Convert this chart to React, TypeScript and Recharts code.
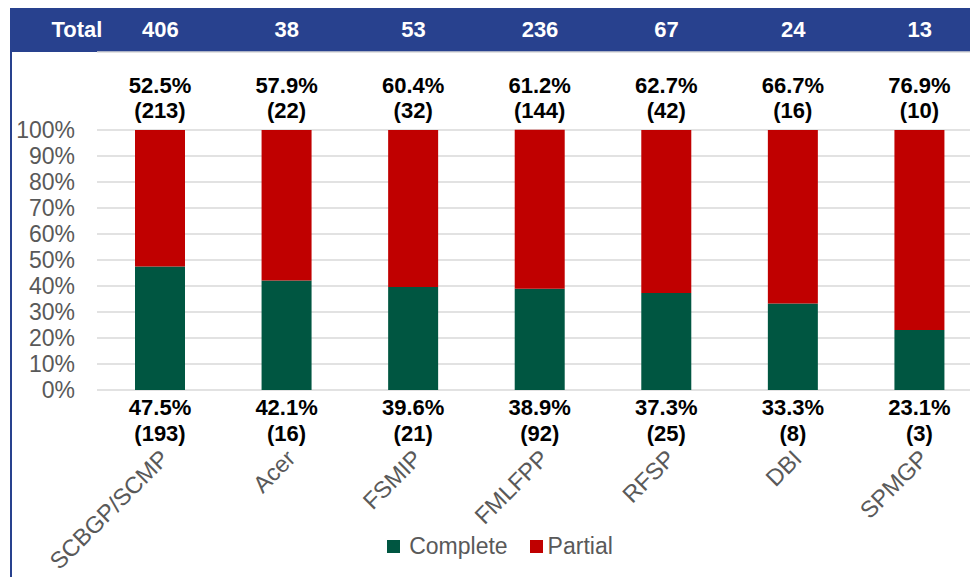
import { BarChart, Bar, XAxis, YAxis, CartesianGrid, Legend, LabelList } from "recharts"

const categories = ["SCBGP/SCMP", "Acer", "FSMIP", "FMLFPP", "RFSP", "DBI", "SPMGP"]
const totals = [406, 38, 53, 236, 67, 24, 13]
const completeCounts = [193, 16, 21, 92, 25, 8, 3]
const partialCounts = [213, 22, 32, 144, 42, 16, 10]
const completePct = [47.5, 42.1, 39.6, 38.9, 37.3, 33.3, 23.1]
const partialPct = [52.5, 57.9, 60.4, 61.2, 62.7, 66.7, 76.9]
const yTicks = [0, 10, 20, 30, 40, 50, 60, 70, 80, 90, 100]

const font = "'Liberation Sans', Arial, sans-serif"
const navy = "#28418E"
const green = "#005641"
const red = "#C00000"
const gray = "#595959"

const data = categories.map((name, i) => ({
    name,
    complete: completePct[i],
    partial: partialPct[i],
}))

// labels above the stack (partial share)
function TopLabel(props: any) {
    const { x, y, width, index } = props
    const cx = x + width / 2
    return (
        <g>
            <text x={cx} y={y - 37} textAnchor="middle" fontSize={22} fontWeight="bold" fill="#000">
                {partialPct[index].toFixed(1)}%
            </text>
            <text x={cx} y={y - 12} textAnchor="middle" fontSize={22} fontWeight="bold" fill="#000">
                ({partialCounts[index]})
            </text>
        </g>
    )
}

// labels under the stack (complete share)
function BottomLabel(props: any) {
    const { x, y, width, height, index } = props
    const cx = x + width / 2
    const base = y + height
    return (
        <g>
            <text x={cx} y={base + 25} textAnchor="middle" fontSize={22} fontWeight="bold" fill="#000">
                {completePct[index].toFixed(1)}%
            </text>
            <text x={cx} y={base + 51} textAnchor="middle" fontSize={22} fontWeight="bold" fill="#000">
                ({completeCounts[index]})
            </text>
        </g>
    )
}

function CategoryTick(props: any) {
    const { x, y, payload } = props
    return (
        <g transform={`translate(${x + 10},${y})`}>
            <text x={0} y={0} textAnchor="end" transform="rotate(-45)" fontSize={23.5} fill={gray}>
                {payload.value}
            </text>
        </g>
    )
}

function LegendContent(props: any) {
    const { payload } = props
    return (
        <div style={{ display: "flex", justifyContent: "center", alignItems: "center", gap: 22 }}>
            {payload.map((p: any) => (
                <div key={p.value} style={{ display: "flex", alignItems: "center" }}>
                    <span style={{ display: "inline-block", width: 13, height: 13, background: p.color, marginRight: p.value === "Complete" ? 9 : 5 }} />
                    <span style={{ color: gray, fontSize: 23, lineHeight: "26px" }}>{p.value}</span>
                </div>
            ))}
        </div>
    )
}

export default function App() {
    return (
        <div style={{ position: "fixed", left: 0, top: 0, width: 970, height: 577, overflow: "hidden", background: "#fff", fontFamily: font }}>
            {/* header band */}
            <div style={{ position: "absolute", left: 10, top: 8, width: 960, height: 44, background: navy }}>
                <span style={{ position: "absolute", left: 0, width: 134, textAlign: "center", lineHeight: "44px", color: "#fff", fontWeight: "bold", fontSize: 22 }}>
                    Total
                </span>
            </div>
            <div style={{ position: "absolute", left: 10, top: 52, width: 2, height: 525, background: navy }} />

            <div style={{ position: "absolute", left: 0, top: 0 }}>
                <BarChart
                    width={990}
                    height={577}
                    data={data}
                    margin={{ top: 8, right: 7, left: 0, bottom: 14 }}
                    barSize={50}
                    style={{ fontFamily: font }}
                >
                    <CartesianGrid vertical={false} stroke="#d9d9d9" strokeWidth={1.5} />
                    <XAxis
                        xAxisId="top"
                        orientation="top"
                        dataKey="name"
                        height={44}
                        axisLine={false}
                        tickLine={false}
                        tickSize={0}
                        tickMargin={15}
                        interval={0}
                        tickFormatter={(_v: string, i: number) => String(totals[i])}
                        tick={{ fill: "#fff", fontSize: 22, fontWeight: "bold" }}
                    />
                    <XAxis
                        dataKey="name"
                        height={143}
                        axisLine={false}
                        tickLine={false}
                        tickSize={0}
                        tickMargin={70}
                        interval={0}
                        tick={<CategoryTick />}
                    />
                    <YAxis
                        domain={[0, 130]}
                        ticks={yTicks}
                        interval={0}
                        width={97}
                        axisLine={false}
                        tickLine={false}
                        tickSize={0}
                        tickMargin={22}
                        tickFormatter={(v: number) => `${v}%`}
                        tick={{ fill: gray, fontSize: 23 }}
                    />
                    <Legend
                        verticalAlign="bottom"
                        height={30}
                        wrapperStyle={{ left: 0, width: 1000 }}
                        content={<LegendContent />}
                    />
                    <Bar dataKey="complete" name="Complete" stackId="a" fill={green} isAnimationActive={false}>
                        <LabelList dataKey="complete" content={<BottomLabel />} />
                    </Bar>
                    <Bar dataKey="partial" name="Partial" stackId="a" fill={red} isAnimationActive={false}>
                        <LabelList dataKey="partial" content={<TopLabel />} />
                    </Bar>
                </BarChart>
            </div>
        </div>
    )
}
